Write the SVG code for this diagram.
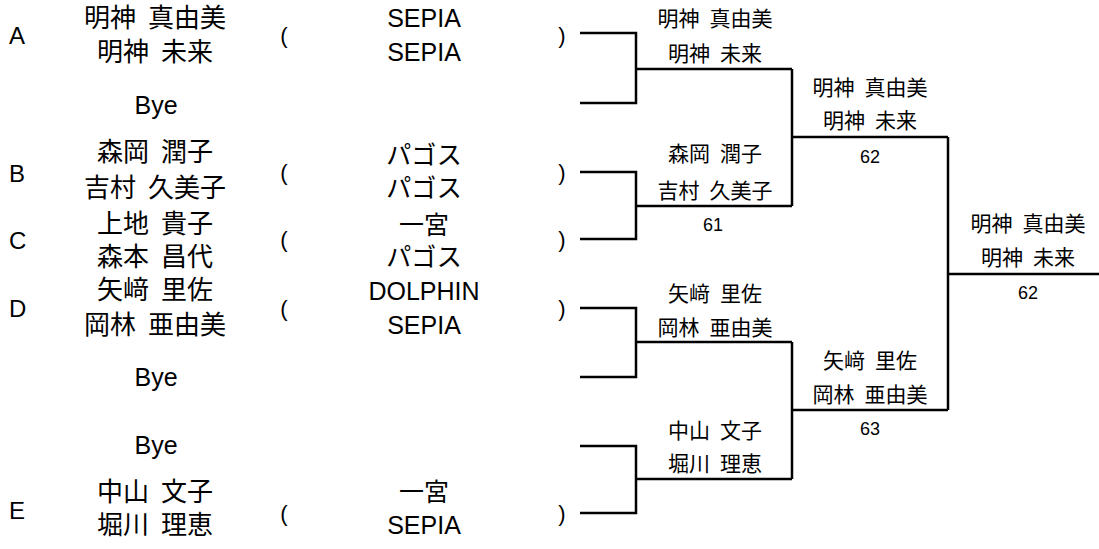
<svg xmlns="http://www.w3.org/2000/svg" width="1099" height="549" viewBox="0 0 1099 549">
<style>
text{font-family:"Liberation Sans","Noto Sans CJK JP",sans-serif;fill:#000;text-anchor:middle;dominant-baseline:central}
.nm{font-size:26px;word-spacing:5px}
.tm{font-size:25px}
.lt{font-size:24px;text-anchor:start}
.p{font-size:22px}
.bl{font-size:21px;word-spacing:4px}
.sc{font-size:18px}
.ln{fill:none;stroke:#000;stroke-width:2.5}
</style>
<rect width="1099" height="549" fill="#fff"/>
<g id="entry-A">
<text class="lt" x="9" y="35">A</text>
<text class="nm" x="155" y="18">明神 真由美</text>
<text class="nm" x="155" y="52">明神 未来</text>
<text class="p" x="284" y="35">(</text>
<text class="tm" x="424" y="18">SEPIA</text>
<text class="tm" x="424" y="52">SEPIA</text>
<text class="p" x="562" y="35">)</text>
</g>
<g id="bye-1"><text class="tm" x="156" y="105">Bye</text></g>
<g id="entry-B">
<text class="lt" x="9" y="173">B</text>
<text class="nm" x="155" y="152">森岡 潤子</text>
<text class="nm" x="155" y="188">吉村 久美子</text>
<text class="p" x="284" y="172">(</text>
<text class="tm" x="424" y="155">パゴス</text>
<text class="tm" x="424" y="188">パゴス</text>
<text class="p" x="562" y="172">)</text>
</g>
<g id="entry-C">
<text class="lt" x="9" y="240">C</text>
<text class="nm" x="155" y="224">上地 貴子</text>
<text class="nm" x="155" y="257">森本 昌代</text>
<text class="p" x="284" y="239">(</text>
<text class="tm" x="424" y="225">一宮</text>
<text class="tm" x="424" y="257">パゴス</text>
<text class="p" x="562" y="239">)</text>
</g>
<g id="entry-D">
<text class="lt" x="9" y="308">D</text>
<text class="nm" x="155" y="290">矢﨑 里佐</text>
<text class="nm" x="155" y="325">岡林 亜由美</text>
<text class="p" x="284" y="308">(</text>
<text class="tm" x="424" y="291">DOLPHIN</text>
<text class="tm" x="424" y="325">SEPIA</text>
<text class="p" x="562" y="308">)</text>
</g>
<g id="bye-2"><text class="tm" x="156" y="377">Bye</text></g>
<g id="bye-3"><text class="tm" x="156" y="445">Bye</text></g>
<g id="entry-E">
<text class="lt" x="9" y="510">E</text>
<text class="nm" x="155" y="492">中山 文子</text>
<text class="nm" x="155" y="525">堀川 理恵</text>
<text class="p" x="284" y="513">(</text>
<text class="tm" x="424" y="492">一宮</text>
<text class="tm" x="424" y="525">SEPIA</text>
<text class="p" x="562" y="513">)</text>
</g>
<g id="connectors">
<path class="ln" d="M580 33H636V103H580M636 69H792"/>
<path class="ln" d="M580 172H636V239H580M636 206H792"/>
<path class="ln" d="M580 308H636V377H580M636 342H792"/>
<path class="ln" d="M580 446H636V513H580M636 479H792"/>
<path class="ln" d="M792 69V206M792 137H948"/>
<path class="ln" d="M792 342V479M792 410H948"/>
<path class="ln" d="M948 137V410M948 274H1099"/>
</g>
<g id="r1-m1">
<text class="bl" x="715" y="18">明神 真由美</text>
<text class="bl" x="715" y="53">明神 未来</text>
</g>
<g id="r1-m2">
<text class="bl" x="715" y="153">森岡 潤子</text>
<text class="bl" x="715" y="190">吉村 久美子</text>
<text class="sc" x="713" y="225">61</text>
</g>
<g id="r1-m3">
<text class="bl" x="715" y="293">矢﨑 里佐</text>
<text class="bl" x="715" y="327">岡林 亜由美</text>
</g>
<g id="r1-m4">
<text class="bl" x="715" y="430">中山 文子</text>
<text class="bl" x="715" y="463">堀川 理恵</text>
</g>
<g id="r2-m1">
<text class="bl" x="870" y="87">明神 真由美</text>
<text class="bl" x="870" y="120">明神 未来</text>
<text class="sc" x="870" y="157">62</text>
</g>
<g id="r2-m2">
<text class="bl" x="870" y="360">矢﨑 里佐</text>
<text class="bl" x="870" y="394">岡林 亜由美</text>
<text class="sc" x="870" y="429">63</text>
</g>
<g id="final">
<text class="bl" x="1028" y="223">明神 真由美</text>
<text class="bl" x="1028" y="257">明神 未来</text>
<text class="sc" x="1028" y="293">62</text>
</g>
</svg>
